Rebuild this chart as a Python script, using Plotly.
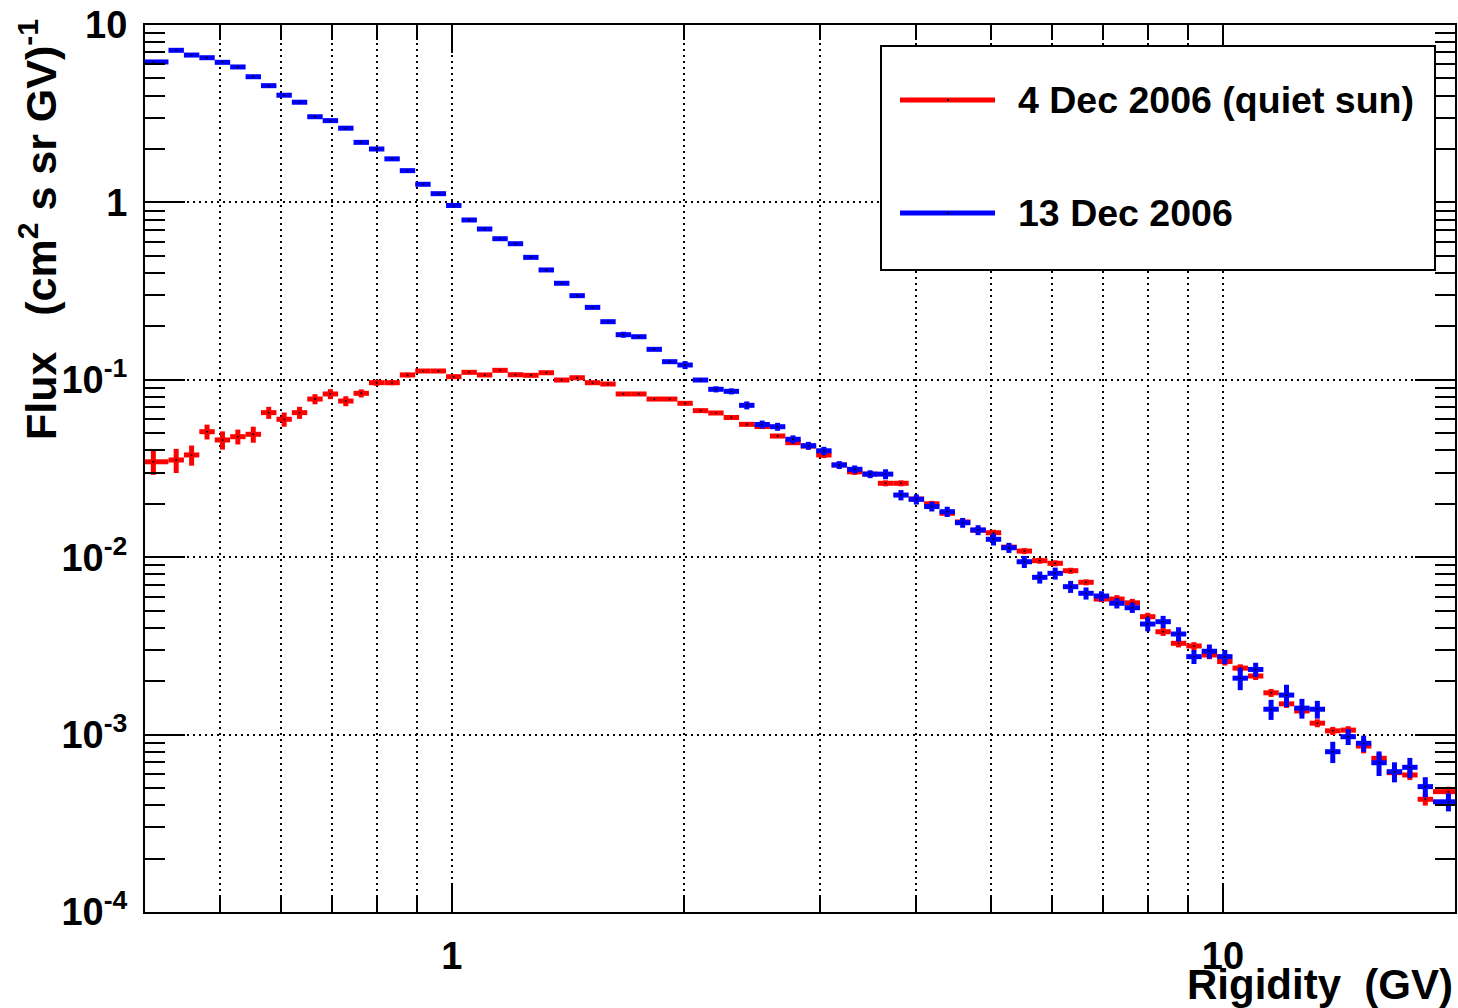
import numpy as np
import plotly.graph_objects as go

# ---------------- data ----------------
# Rigidity bin edges (GV), log-uniform histogram binning
bin_edges = [0.392, 0.42904, 0.44927, 0.47044, 0.49261, 0.51582, 0.54013, 0.56559, 0.59225,
             0.62016, 0.64938, 0.67999, 0.71204, 0.74559, 0.78073, 0.81752, 0.85605, 0.89640,
             0.93864, 0.98287, 1.0292, 1.0777, 1.1285, 1.1817, 1.2374, 1.2957, 1.3568, 1.4207,
             1.4877, 1.5578, 1.6312, 1.7081, 1.7886, 1.8729, 1.9611, 2.0535, 2.1503, 2.2517,
             2.3578, 2.4689, 2.5852, 2.7071, 2.8347, 2.9683, 3.1081, 3.2546, 3.4080, 3.5686,
             3.7368, 3.9129, 4.0973, 4.2904, 4.4927, 4.7044, 4.9261, 5.1582, 5.4013, 5.6559,
             5.9225, 6.2016, 6.4938, 6.7999, 7.1204, 7.4559, 7.8073, 8.1752, 8.5605, 8.9640,
             9.3864, 9.8287, 10.292, 10.777, 11.285, 11.817, 12.374, 12.957, 13.568, 14.207,
             14.877, 15.578, 16.312, 17.081, 17.886, 18.729, 20.535]

# 4 Dec 2006 (quiet sun) flux and errors
red_flux = [0.0345,
            0.0353, 0.0377, 0.0510, 0.0458, 0.0478, 0.0493, 0.0653, 0.0599, 0.0653, 0.0779,
            0.0832, 0.0759, 0.0839, 0.0963, 0.0963, 0.1065, 0.1121, 0.1121, 0.1041, 0.1102,
            0.1065, 0.1131, 0.1068, 0.1060, 0.1096, 0.0997, 0.1027, 0.0963, 0.0947, 0.0832,
            0.0832, 0.0779, 0.0779, 0.0737, 0.0670, 0.0650, 0.0613, 0.0561, 0.0545, 0.0482,
            0.0442, 0.0423, 0.0377, 0.0331, 0.0303, 0.0294, 0.0261, 0.0261, 0.0213, 0.0200,
            0.01768, 0.0158, 0.0142, 0.01374, 0.0114, 0.01083, 0.00956, 0.00924, 0.00839, 0.00722,
            0.00581, 0.00581, 0.00553, 0.00462, 0.00380, 0.00327, 0.00316, 0.00281, 0.00258, 0.00237,
            0.00214, 0.00172, 0.00149, 0.00136, 0.00116, 0.00105, 0.00106, 0.000862, 0.000735, 0.000610,
            0.000592, 0.000432,
            0.000477]
red_err = [0.0054,
           0.0055, 0.0049, 0.0049, 0.0054, 0.0046, 0.0051, 0.0051, 0.0055, 0.0051, 0.0051,
           0.0054, 0.0049, 0.0044, 0.0038, 0.0031, 0.0034, 0.0029, 0.0029, 0.0027, 0.0028,
           0.0027, 0.0028, 0.0027, 0.0027, 0.0027, 0.0025, 0.0026, 0.0024, 0.0024, 0.0021,
           0.0021, 0.0020, 0.0020, 0.0019, 0.0017, 0.0017, 0.0016, 0.0015, 0.0015, 0.0013,
           0.0013, 0.0017, 0.0015, 0.0013, 0.0012, 0.0011, 0.0010, 0.0010, 0.00083, 0.00078,
           0.00069, 0.00062, 0.00055, 0.00054, 0.00044, 0.00042, 0.00037, 0.00036, 0.00033, 0.00028,
           0.00023, 0.00030, 0.00029, 0.00024, 0.00020, 0.00017, 0.00016, 0.00015, 0.00013, 0.00012,
           0.00011, 0.000089, 0.000077, 0.000071, 0.000060, 0.000055, 0.000055, 0.000078, 0.000048, 0.000040,
           0.000038, 0.000034,
           0.000031]

# 13 Dec 2006 flux and errors
blue_flux = [6.19,
             7.20, 6.77, 6.54, 6.16, 5.80, 5.11, 4.55, 4.02, 3.67, 3.04,
             2.89, 2.62, 2.18, 2.00, 1.76, 1.51, 1.265, 1.12, 0.961, 0.796,
             0.708, 0.624, 0.585, 0.490, 0.416, 0.350, 0.298, 0.256, 0.2126, 0.1796,
             0.1749, 0.1485, 0.1265, 0.1212, 0.0997, 0.0884, 0.0861, 0.0718, 0.0560, 0.0544,
             0.0462, 0.0425, 0.0398, 0.0331, 0.0313, 0.0294, 0.0294, 0.0224, 0.0212, 0.0193,
             0.01805, 0.01565, 0.01423, 0.01262, 0.01131, 0.00943, 0.00770, 0.00811, 0.00682, 0.00626,
             0.00604, 0.00550, 0.00519, 0.00420, 0.00433, 0.00369, 0.00275, 0.00295, 0.00275, 0.00208,
             0.00233, 0.00139, 0.00167, 0.00141, 0.00139, 0.000801, 0.000973, 0.000893, 0.000694, 0.000618,
             0.000654, 0.000509,
             0.000418]
blue_err = [0.09,
            0.11, 0.10, 0.10, 0.09, 0.09, 0.08, 0.07, 0.06, 0.055, 0.046,
            0.043, 0.039, 0.033, 0.030, 0.026, 0.023, 0.019, 0.017, 0.014, 0.012,
            0.011, 0.009, 0.009, 0.0074, 0.0062, 0.0053, 0.0045, 0.0038, 0.0032, 0.0070,
            0.0035, 0.0030, 0.0025, 0.0063, 0.0025, 0.0035, 0.0034, 0.0037, 0.0029, 0.0028,
            0.0024, 0.0022, 0.0021, 0.0017, 0.0016, 0.0015, 0.0019, 0.0015, 0.0014, 0.0012,
            0.0012, 0.0010, 0.00092, 0.00098, 0.00074, 0.00074, 0.00060, 0.00063, 0.00053, 0.00049,
            0.00039, 0.00036, 0.00034, 0.00038, 0.00034, 0.00034, 0.00025, 0.00027, 0.00025, 0.00030,
            0.00021, 0.00018, 0.00024, 0.00018, 0.00016, 0.00011, 0.00010, 0.000093, 0.00011, 0.000080,
            0.000085, 0.000066,
            0.000049]

series_names = ["4 Dec 2006 (quiet sun)", "13 Dec 2006"]
series_colors = ["#ff0000", "#0000ff"]

x_tick_vals = [1, 10]
x_tick_text = ["1", "10"]
x_minor_vals = [0.5, 0.6, 0.7, 0.8, 0.9, 2, 3, 4, 5, 6, 7, 8, 9]
y_tick_vals = [1e-4, 1e-3, 1e-2, 1e-1, 1, 10]
y_tick_text = ["10<sup>-4</sup>", "10<sup>-3</sup>", "10<sup>-2</sup>", "10<sup>-1</sup>", "1", "10"]
y_minor_vals = [m * 10.0 ** e for e in range(-4, 1) for m in range(2, 10)]

x_title = "Rigidity&nbsp; (GV)"
y_title = "Flux&nbsp;&nbsp; (cm<sup>2</sup> s sr GV)<sup>-1</sup>"

assert len(bin_edges) == len(red_flux) + 1 == len(blue_flux) + 1
assert len(red_err) == len(red_flux) and len(blue_err) == len(blue_flux)

# ---------------- geometry ----------------
W, H = 1458, 1008
PL, PR, PT, PB = 145, 1455, 25, 912   # plot area in pixels


def px_x(px):
    return (px - PL) / (PR - PL)


def px_y(py):
    return (PB - py) / (PB - PT)


edges = np.array(bin_edges)
lo, hi = edges[:-1], edges[1:]
centers = np.sqrt(lo * hi)
ex_plus = hi - centers
ex_minus = centers - lo

FONT = "Liberation Sans"
fig = go.Figure()

for flux, err, col, name in [(red_flux, red_err, series_colors[0], series_names[0]),
                             (blue_flux, blue_err, series_colors[1], series_names[1])]:
    fig.add_trace(go.Scatter(
        x=centers, y=flux, mode="markers", name=name, showlegend=False,
        marker=dict(size=2, color="black", line=dict(width=0)),
        error_x=dict(type="data", symmetric=False, array=ex_plus, arrayminus=ex_minus,
                     color=col, thickness=5, width=0),
        error_y=dict(type="data", array=err, color=col, thickness=5, width=0),
        hoverinfo="skip"))

tickfont = dict(family=FONT, size=38, color="black", weight="bold")
grid_style = dict(gridcolor="black", gridwidth=2, griddash="2px,4px")

fig.update_xaxes(
    type="log", range=[np.log10(0.4), np.log10(20)],
    tickmode="array", tickvals=x_tick_vals, ticktext=x_tick_text,
    ticks="inside", ticklen=28, tickwidth=2, tickcolor="black",
    showline=True, linewidth=2, linecolor="black", mirror="allticks",
    showgrid=True, zeroline=False, tickfont=tickfont, ticklabelstandoff=9,
    minor=dict(tickmode="array", tickvals=x_minor_vals, ticks="inside", ticklen=15,
               tickwidth=2, tickcolor="black", showgrid=True, **grid_style),
    **grid_style)

fig.update_yaxes(
    type="log", range=[-4, 1],
    tickmode="array", tickvals=y_tick_vals, ticktext=y_tick_text,
    ticks="inside", ticklen=40, tickwidth=2, tickcolor="black",
    showline=True, linewidth=2, linecolor="black", mirror="allticks",
    showgrid=True, zeroline=False, tickfont=tickfont, ticklabelstandoff=8,
    minor=dict(tickmode="array", tickvals=y_minor_vals, ticks="inside", ticklen=20,
               tickwidth=2, tickcolor="black", showgrid=False),
    **grid_style)

# ---------------- legend (ROOT-style box) ----------------
shapes = [dict(type="rect", xref="paper", yref="paper", layer="above",
               x0=px_x(881), x1=px_x(1435), y0=px_y(270), y1=px_y(46),
               line=dict(color="black", width=2), fillcolor="white")]
annotations = []
for i, (name, col, ly) in enumerate(zip(series_names, series_colors, [100, 213])):
    shapes.append(dict(type="line", xref="paper", yref="paper", layer="above",
                       x0=px_x(900), x1=px_x(995), y0=px_y(ly), y1=px_y(ly),
                       line=dict(color=col, width=5)))
    shapes.append(dict(type="rect", xref="paper", yref="paper", layer="above",
                       x0=px_x(947), x1=px_x(949), y0=px_y(ly + 1), y1=px_y(ly - 1),
                       line=dict(width=0), fillcolor="black"))
    annotations.append(dict(text=name, xref="paper", yref="paper", x=px_x(1016), y=px_y(ly),
                            xanchor="left", yanchor="middle", showarrow=False,
                            font=dict(family=FONT, size=37.5, color="black", weight="bold")))

annotations.append(dict(text=x_title, xref="paper", yref="paper", x=px_x(1455), y=px_y(984),
                        xanchor="right", yanchor="middle", showarrow=False,
                        font=dict(family=FONT, size=42, color="black", weight="bold")))
annotations.append(dict(text=y_title, xref="paper", yref="paper", x=px_x(38), y=px_y(230),
                        xanchor="center", yanchor="middle", showarrow=False, textangle=-90,
                        font=dict(family=FONT, size=43, color="black", weight="bold")))

fig.update_layout(
    width=W, height=H,
    margin=dict(l=PL, r=W - PR, t=PT, b=H - PB, pad=0, autoexpand=False),
    paper_bgcolor="white", plot_bgcolor="white",
    showlegend=False, shapes=shapes, annotations=annotations)

fig.write_html("out.html",
               config={"displayModeBar": False},
               post_script="document.body.style.margin='0';"
                           "document.body.style.overflow='hidden';")
